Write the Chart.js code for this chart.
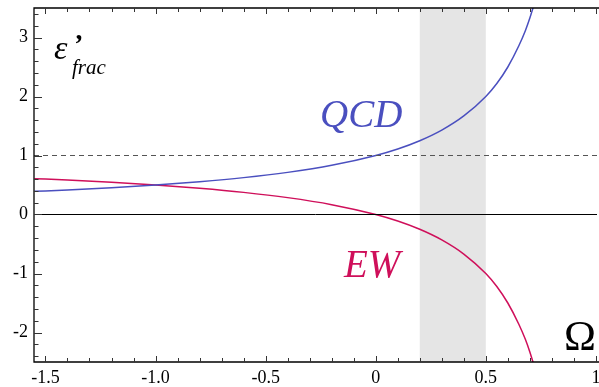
<!DOCTYPE html>
<html>
<head>
<meta charset="utf-8">
<script src="https://cdn.jsdelivr.net/npm/chart.js@4.4.0/dist/chart.umd.min.js"></script>
<style>
  body { margin: 0; background: #fff; }
  canvas { display: block; }
</style>
</head>
<body>
<canvas id="myChart" width="599" height="387"></canvas>
<script>
// values
var omega = [-1.55, -1.4, -1.2, -1.0, -0.8, -0.6, -0.4, -0.2, 0, 0.1, 0.2, 0.3, 0.4, 0.5, 0.55, 0.6, 0.65, 0.68, 0.7, 0.715];
var qcd   = [0.392, 0.417, 0.455, 0.500, 0.556, 0.625, 0.714, 0.833, 1.0, 1.11, 1.25, 1.43, 1.67, 2.0, 2.22, 2.5, 2.86, 3.12, 3.33, 3.51];
var ew    = [0.608, 0.583, 0.545, 0.500, 0.444, 0.375, 0.286, 0.167, 0, -0.11, -0.25, -0.43, -0.67, -1.0, -1.22, -1.5, -1.86, -2.12, -2.33, -2.51];
var band  = [0.2, 0.5];
var xTicks = [-1.5, -1.0, -0.5, 0, 0.5, 1];
var xTickLabels = ["-1.5", "-1.0", "-0.5", "0", "0.5", "1"];
var yTicks = [-2, -1, 0, 1, 2, 3];
var yTickLabels = ["-2", "-1", "0", "1", "2", "3"];
var xMin = -1.552, xMax = 1.005, yMin = -2.5, yMax = 3.5;

function pts(xs, ys){
  var out = [];
  for (var i = 0; i < xs.length; i++) out.push({x: xs[i], y: ys[i]});
  return out;
}

var serif = "'Liberation Serif', serif";

var decor = {
  id: 'decor',
  beforeDatasetsDraw: function(chart){
    var ctx = chart.ctx, a = chart.chartArea, xs = chart.scales.x;
    ctx.save();
    ctx.fillStyle = '#e5e5e5';
    var x0 = xs.getPixelForValue(band[0]), x1 = xs.getPixelForValue(band[1]);
    ctx.fillRect(x0, a.top, x1 - x0, a.bottom - a.top);
    ctx.restore();
  },
  afterDatasetsDraw: function(chart){
    var ctx = chart.ctx, a = chart.chartArea, xs = chart.scales.x, ys = chart.scales.y;
    ctx.save();
    // frame
    ctx.strokeStyle = '#000';
    ctx.lineWidth = 1.3;
    ctx.beginPath();
    ctx.moveTo(a.right + 2, a.top); ctx.lineTo(a.left, a.top);
    ctx.lineTo(a.left, a.bottom); ctx.lineTo(a.right + 2, a.bottom);
    ctx.stroke();

    // ticks, pointing inwards
    ctx.lineWidth = 1;
    ctx.strokeStyle = '#333';
    ctx.beginPath();
    var v, p, k;
    for (k = -15; k <= 10; k++){
      v = k / 10;
      p = Math.round(xs.getPixelForValue(v)) + 0.5;
      var len = (k % 5 === 0) ? 6 : 4;
      ctx.moveTo(p, a.bottom); ctx.lineTo(p, a.bottom - len);
      ctx.moveTo(p, a.top); ctx.lineTo(p, a.top + len);
    }
    for (k = -12; k <= 17; k++){
      v = k / 5;
      p = Math.round(ys.getPixelForValue(v)) + 0.5;
      var ylen = (k % 5 === 0) ? 8 : 4.5;
      ctx.moveTo(a.left, p); ctx.lineTo(a.left + ylen, p);
    }
    ctx.stroke();

    // tick labels
    ctx.fillStyle = '#000';
    ctx.font = '18px ' + serif;
    ctx.textAlign = 'center';
    ctx.textBaseline = 'middle';
    for (var i = 0; i < xTicks.length; i++){
      ctx.fillText(xTickLabels[i], xs.getPixelForValue(xTicks[i]), a.bottom + 16);
    }
    ctx.textAlign = 'right';
    for (i = 0; i < yTicks.length; i++){
      ctx.fillText(yTickLabels[i], a.left - 6, ys.getPixelForValue(yTicks[i]));
    }

    // labels
    ctx.textAlign = 'left';
    ctx.textBaseline = 'alphabetic';
    ctx.font = 'italic 34px ' + serif;
    ctx.fillText('\u03b5', 54, 59);
    ctx.font = 'bold italic 28px ' + serif;
    ctx.fillText('\u2019', 73, 53);
    ctx.font = 'italic 21px ' + serif;
    ctx.fillText('frac', 72, 74);

    ctx.font = '43px ' + serif;
    ctx.fillText('\u03a9', 564, 350);

    ctx.font = 'italic 39px ' + serif;
    ctx.fillStyle = '#4a4fbf';
    ctx.fillText('QCD', 320, 127);
    ctx.fillStyle = '#cf0f5a';
    ctx.fillText('EW', 344, 277);
    ctx.restore();
  }
};

function draw(){
  var ctx = document.getElementById('myChart');
  new Chart(ctx, {
    type: 'scatter',
    data: {
      datasets: [{
        data: pts([xMin, xMax], [0, 0]),
        showLine: true, borderColor: '#000', borderWidth: 1, pointRadius: 0
      },{
        data: pts([xMin, xMax], [1, 1]),
        showLine: true, borderColor: '#555', borderWidth: 1, borderDash: [5, 4], pointRadius: 0
      },{
        label: 'QCD',
        data: pts(omega, qcd),
        showLine: true, borderColor: '#4a4fbf', borderWidth: 1.5, pointRadius: 0,
        cubicInterpolationMode: 'monotone'
      },{
        label: 'EW',
        data: pts(omega, ew),
        showLine: true, borderColor: '#cf0f5a', borderWidth: 1.5, pointRadius: 0,
        cubicInterpolationMode: 'monotone'
      }]
    },
    options: {
      responsive: false,
      animation: false,
      layout: { padding: { left: 34, top: 8, right: 2, bottom: 25 } },
      plugins: { legend: { display: false }, tooltip: { enabled: false } },
      scales: {
        x: { type: 'linear', min: xMin, max: xMax, display: false },
        y: { type: 'linear', min: yMin, max: yMax, display: false }
      }
    },
    plugins: [decor]
  });
}

Promise.all([
  document.fonts.load("18px 'Liberation Serif'"),
  document.fonts.load("italic 39px 'Liberation Serif'"),
  document.fonts.load("bold italic 28px 'Liberation Serif'")
]).then(draw, draw);
</script>
</body>
</html>
